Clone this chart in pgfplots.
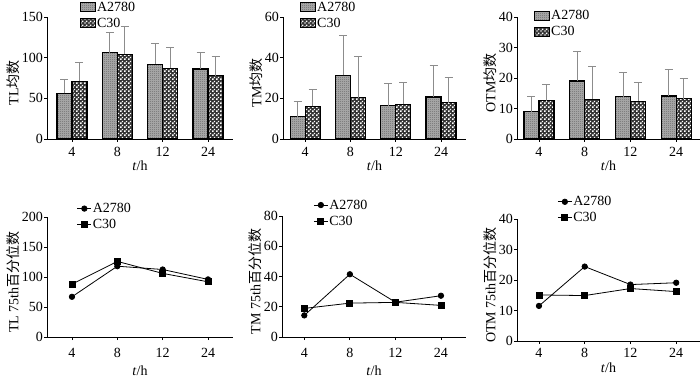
\documentclass[border=0pt]{standalone}
\usepackage{pgfplots}
\pgfplotsset{compat=1.18}
\usepackage{fontspec}
\setmainfont{Liberation Serif}
\newfontfamily\cjk{Noto Sans CJK SC}
\usetikzlibrary{patterns}

\pgfdeclarepatternformonly{chk}{\pgfqpoint{0pt}{0pt}}{\pgfqpoint{4pt}{4pt}}{\pgfqpoint{4pt}{4pt}}{%
 \pgfpathrectangle{\pgfqpoint{0.3pt}{0.3pt}}{\pgfqpoint{1.6pt}{1.6pt}}%
 \pgfpathrectangle{\pgfqpoint{2.3pt}{2.3pt}}{\pgfqpoint{1.6pt}{1.6pt}}%
 \pgfusepath{fill}}
\pgfdeclarepatternformonly{finechk}{\pgfqpoint{0pt}{0pt}}{\pgfqpoint{2pt}{2pt}}{\pgfqpoint{2pt}{2pt}}{%
 \pgfpathrectangle{\pgfqpoint{0pt}{0pt}}{\pgfqpoint{1pt}{1pt}}%
 \pgfpathrectangle{\pgfqpoint{1pt}{1pt}}{\pgfqpoint{1pt}{1pt}}%
 \pgfusepath{fill}}

\pgfplotsset{
  base/.style={
    scale only axis,
    axis x line*=bottom, axis y line*=left,
    axis line style={-, line width=0.8pt},
    tick align=outside, major tick length=3pt,
    tick style={black, line width=0.8pt},
    xtick={0,1,2,3}, xticklabels={4,8,12,24},
    ymin=0, xlabel={\textit{t}/h},
    clip=false,
    /pgf/number format/assume math mode=true,
    yticklabel style={inner sep=1pt},
    xticklabel style={inner sep=2pt},
    ylabel style={inner sep=1pt, xshift=-5pt},
    xlabel style={inner sep=1pt},
    legend cell align=left,
    legend style={draw=none, fill=none, inner sep=0pt, anchor=north west,
      row sep=2pt, nodes={inner sep=1pt, text height=10pt, text depth=2pt}},
  },
  toprow/.style={xticklabel style={yshift=-3pt}, xlabel style={yshift=-1pt}},
  botrow/.style={xticklabel style={yshift=-6pt}, xlabel style={yshift=-5pt}},
  botrowR/.style={xticklabel style={yshift=-2pt}, xlabel style={yshift=-2pt}},
  barA/.style={ybar, bar width=15pt, bar shift=-7.5pt, draw=black, line width=1.2pt,
    preaction={fill=black!32}, pattern=finechk, pattern color=black!60,
    legend image code/.code={\draw[##1, line width=1pt] (0pt,-4.5pt) rectangle (15pt,4.5pt);}},
  barC/.style={ybar, bar width=15pt, bar shift=7.5pt, draw=black, line width=1.2pt,
    preaction={fill=black!80}, pattern=chk, pattern color=white,
    legend image code/.code={\draw[##1, line width=1pt] (0pt,-4.5pt) rectangle (15pt,4.5pt);}},
  err/.style={forget plot, draw=none, mark=none,
    error bars/.cd, y dir=plus, y explicit,
    error bar style={draw=black!45, line width=0.8pt},
    error mark=-,
    error mark options={rotate=90, draw=black!45, mark size=4pt, line width=0.8pt}},
  lineA/.style={black, line width=0.8pt, mark=*, mark size=2.7pt, mark options={solid},
    legend image code/.code={\draw[mark repeat=2,mark phase=2,##1] plot coordinates {(0pt,0pt) (7pt,0pt) (14pt,0pt)};}},
  lineC/.style={black, line width=0.8pt, mark=square*, mark size=3pt, mark options={solid},
    legend image code/.code={\draw[mark repeat=2,mark phase=2,##1] plot coordinates {(0pt,0pt) (7pt,0pt) (14pt,0pt)};}},
}

\begin{document}
\fontsize{14}{16}\selectfont
\begin{tikzpicture}
\useasboundingbox (0,0) rectangle (700pt,380pt);

% ---------- TL mean ----------
\begin{axis}[base, toprow, at={(47pt,241pt)}, anchor=south west,
  width=186pt, height=122pt, xmin=-0.55, xmax=3.55, ymax=150, ytick={0,50,100,150},
  ylabel={TL{\cjk 均数}},
  legend style={at={(0.177,1.14)}}]
\addplot[barA] coordinates {(0,56) (1,106) (2,92) (3,86)};
\addplot[barC] coordinates {(0,71) (1,104) (2,87) (3,78)};
\addplot[err] coordinates {(-0.165,56) +- (0,17) (0.835,106) +- (0,25) (1.835,92) +- (0,26) (2.835,86) +- (0,21)};
\addplot[err] coordinates {(0.165,71) +- (0,23) (1.165,104) +- (0,34) (2.165,87) +- (0,26) (3.165,78) +- (0,23)};
\legend{A2780,C30}
\end{axis}

% ---------- TM mean ----------
\begin{axis}[base, toprow, at={(283pt,241pt)}, anchor=south west,
  width=183pt, height=122pt, xmin=-0.49, xmax=3.55, ymax=60, ytick={0,20,40,60},
  ylabel={TM{\cjk 均数}},
  legend style={at={(0.093,1.14)}}]
\addplot[barA] coordinates {(0,11) (1,31.3) (2,16.4) (3,20.7)};
\addplot[barC] coordinates {(0,16) (1,20.4) (2,17) (3,17.8)};
\addplot[err] coordinates {(-0.165,11) +- (0,7.4) (0.835,31.3) +- (0,19.7) (1.835,16.4) +- (0,10.7) (2.835,20.7) +- (0,15.3)};
\addplot[err] coordinates {(0.165,16) +- (0,8.5) (1.165,20.4) +- (0,20.2) (2.165,17) +- (0,10.8) (3.165,17.8) +- (0,12.6)};
\legend{A2780,C30}
\end{axis}

% ---------- OTM mean ----------
\begin{axis}[base, toprow, at={(517pt,241pt)}, anchor=south west,
  width=183pt, height=122pt, xmin=-0.48, xmax=3.52, ymax=40, ytick={0,10,20,30,40},
  ylabel={OTM{\cjk 均数}},
  legend style={at={(0.093,1.07)}}]
\addplot[barA] coordinates {(0,9) (1,19) (2,13.9) (3,14.1)};
\addplot[barC] coordinates {(0,12.6) (1,13) (2,12.4) (3,13.2)};
\addplot[err] coordinates {(-0.164,9) +- (0,5) (0.836,19) +- (0,9.6) (1.836,13.9) +- (0,8) (2.836,14.1) +- (0,8.6)};
\addplot[err] coordinates {(0.164,12.6) +- (0,5.2) (1.164,13) +- (0,10.8) (2.164,12.4) +- (0,6.3) (3.164,13.2) +- (0,6.6)};
\legend{A2780,C30}
\end{axis}

% ---------- TL 75th ----------
\begin{axis}[base, botrow, at={(47pt,43pt)}, anchor=south west,
  width=186pt, height=120pt, xmin=-0.55, xmax=3.55, ymax=200, ytick={0,50,100,150,200},
  ylabel={TL 75th{\cjk 百分位数}},
  legend style={at={(0.16,1.13)}}]
\addplot[lineA] coordinates {(0,67) (1,118) (2,112.5) (3,96)};
\addplot[lineC] coordinates {(0,88) (1,126) (2,106) (3,92)};
\legend{A2780,C30}
\end{axis}

% ---------- TM 75th ----------
\begin{axis}[base, botrow, at={(282pt,43pt)}, anchor=south west,
  width=184pt, height=121pt, xmin=-0.49, xmax=3.55, ymax=80, ytick={0,20,40,60,80},
  ylabel={TM 75th{\cjk 百分位数}},
  legend style={at={(0.17,1.15)}}]
\addplot[lineA] coordinates {(0,14.3) (1,41.5) (2,23) (3,27.3)};
\addplot[lineC] coordinates {(0,18.9) (1,22.4) (2,22.9) (3,20.9)};
\legend{A2780,C30}
\end{axis}

% ---------- OTM 75th ----------
\begin{axis}[base, botrowR, at={(517pt,39pt)}, anchor=south west,
  width=183pt, height=122pt, xmin=-0.48, xmax=3.52, ymax=40, ytick={0,10,20,30,40},
  ylabel={OTM 75th{\cjk 百分位数}},
  legend style={at={(0.22,1.2)}}]
\addplot[lineA] coordinates {(0,11.5) (1,24.4) (2,18.5) (3,19.1)};
\addplot[lineC] coordinates {(0,15.1) (1,14.9) (2,17.2) (3,16.2)};
\legend{A2780,C30}
\end{axis}
\end{tikzpicture}
\end{document}
